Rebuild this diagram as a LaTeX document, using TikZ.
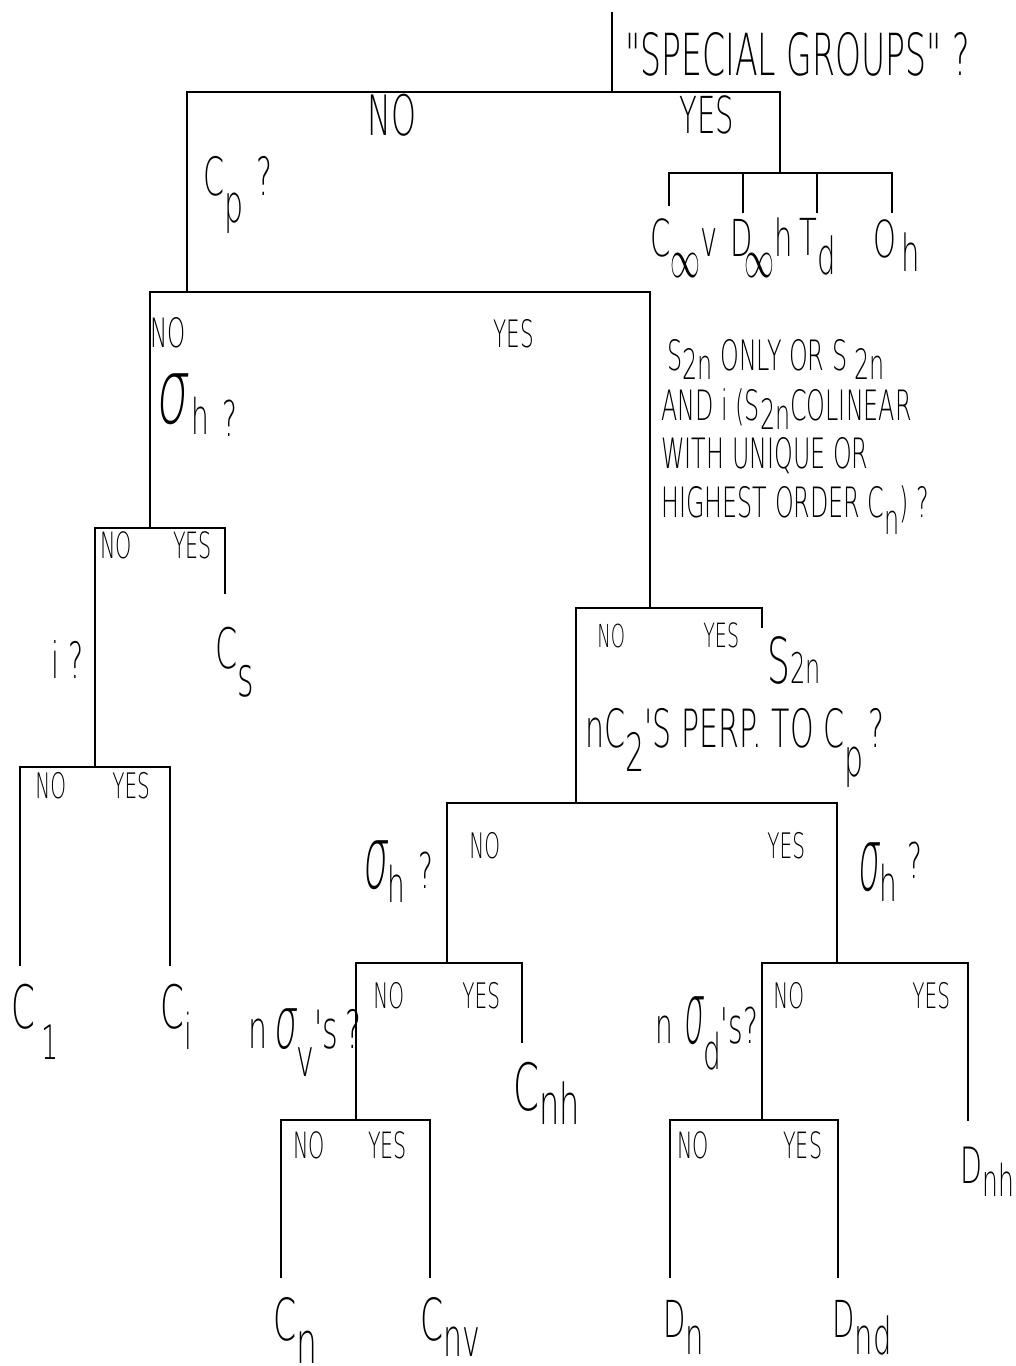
\documentclass[tikz,border=0pt]{standalone}
\usepackage{fontspec}
\setmainfont[FakeStretch=0.57,Ligatures=TeXOff]{DejaVu Sans ExtraLight}
\newfontfamily\grk[FakeSlant=0.15]{DejaVu Sans ExtraLight}
\usepackage{graphicx}
\newdimen\pxu \pxu=0.5669pt
\newcommand\fs[1]{\fontsize{#1}{#1}\selectfont}
\newcommand\lo[2]{\raisebox{-#1\pxu}{#2}}
\newcommand\sig[2]{\resizebox{#1\pxu}{#2\pxu}{\grk\fs{30}σ}}
\newcommand\infy{\resizebox{30\pxu}{24\pxu}{$\infty$}}
\begin{document}
\begin{tikzpicture}[x=0.02cm,y=-0.02cm,
  lbl/.style={inner sep=0pt, anchor=base west},
  br/.style={line width=0.95pt, line cap=rect, line join=miter}]
\useasboundingbox (0,0) rectangle (1015,1366);
% tree coordinates
\coordinate (root) at (612,13);  \coordinate (j1) at (612,92);
\coordinate (b1L) at (187,92);   \coordinate (b1R) at (780,92);
\coordinate (bSc) at (780,173);
\coordinate (bSL) at (669,173);  \coordinate (bSR) at (892,173);
\coordinate (bS2) at (743,173);  \coordinate (bS3) at (817,173);
\coordinate (eS1) at (669,205);  \coordinate (eS2) at (743,212);
\coordinate (eS3) at (817,212);  \coordinate (eS4) at (892,212);
\coordinate (b2c) at (187,292);
\coordinate (b2L) at (150,292);  \coordinate (b2R) at (650,292);
\coordinate (b3c) at (150,528);
\coordinate (b3L) at (95,528);   \coordinate (b3R) at (225,528);
\coordinate (e3R) at (225,593);
\coordinate (b4c) at (95,767);
\coordinate (b4L) at (20,767);   \coordinate (b4R) at (170,767);
\coordinate (e4L) at (20,965);   \coordinate (e4R) at (170,965);
\coordinate (b5c) at (650,608);
\coordinate (b5L) at (576,608);  \coordinate (b5R) at (762,608);
\coordinate (e5R) at (762,627);
\coordinate (b6c) at (576,803);
\coordinate (b6L) at (447,803);  \coordinate (b6R) at (837,803);
\coordinate (b7c) at (447,963);
\coordinate (b7L) at (356,963);  \coordinate (b7R) at (522,963);
\coordinate (e7R) at (522,1042);
\coordinate (b8c) at (356,1120);
\coordinate (b8L) at (281,1120); \coordinate (b8R) at (430,1120);
\coordinate (e8L) at (281,1277); \coordinate (e8R) at (430,1277);
\coordinate (b9c) at (837,963);
\coordinate (b9L) at (762,963);  \coordinate (b9R) at (968,963);
\coordinate (e9R) at (968,1120);
\coordinate (b10c) at (762,1120);
\coordinate (b10L) at (670,1120); \coordinate (b10R) at (838,1120);
\coordinate (e10L) at (670,1277); \coordinate (e10R) at (838,1277);
% branches
\draw[br] (root) -- (j1);
\draw[br] (b1L) -- (b1R) -- (bSc);
\draw[br] (bSL) -- (bSR);
\draw[br] (bSL) -- (eS1);
\draw[br] (bS2) -- (eS2);
\draw[br] (bS3) -- (eS3);
\draw[br] (bSR) -- (eS4);
\draw[br] (b1L) -- (b2c);
\draw[br] (b2L) -- (b2R) -- (b5c);
\draw[br] (b2L) -- (b3c);
\draw[br] (b3L) -- (b3R) -- (e3R);
\draw[br] (b3L) -- (b4c);
\draw[br] (e4L) -- (b4L) -- (b4R) -- (e4R);
\draw[br] (b5L) -- (b5R) -- (e5R);
\draw[br] (b5L) -- (b6c);
\draw[br] (b6L) -- (b6R) -- (b9c);
\draw[br] (b6L) -- (b7c);
\draw[br] (b7L) -- (b7R) -- (e7R);
\draw[br] (b7L) -- (b8c);
\draw[br] (e8L) -- (b8L) -- (b8R) -- (e8R);
\draw[br] (b9L) -- (b9R) -- (e9R);
\draw[br] (b9L) -- (b10c);
\draw[br] (e10L) -- (b10L) -- (b10R) -- (e10R);
% labels
\node[lbl,font=\fs{33}] (q0) at (625,75) {"SPECIAL GROUPS" ?};
\node[lbl,font=\fs{31.7}] (n1) at (367,135) {NO};
\node[lbl,font=\fs{29}] (y1) at (679,133) {YES};
\node[lbl,font=\fs{30}] (q1) at (203,195) {C\lo{28}{p}\hspace{13\pxu}?};
\node[lbl,font=\fs{29}] (g1) at (650,256) {C\lo{22}{\infy}v};
\node[lbl,font=\fs{29}] (g2) at (730,256) {D\hspace{-8\pxu}\lo{22}{\infy}h};
\node[lbl,font=\fs{29}] (g3) at (799,255) {T\lo{20}{d}};
\node[lbl,font=\fs{29}] (g4) at (873,257) {O\hspace{5\pxu}\lo{15}{h}};
\node[lbl,font=\fs{23}] (n2) at (150,347) {NO};
\node[lbl,font=\fs{21.5}] (y2) at (493,347) {YES};
\node[lbl,font=\fs{28}] (q2) at (155,423) {\sig{32}{50}\hspace{4\pxu}\lo{12}{h}\hspace{14\pxu}\lo{14}{?}};
\node[lbl,font=\fs{23.8}] (q3a) at (667,370) {S\lo{10}{2n} ONLY OR S \lo{10}{2n}};
\node[lbl,font=\fs{23.8}] (q3b) at (661,420) {AND i (S\lo{10}{2n}COLINEAR};
\node[lbl,font=\fs{23.8}] (q3c) at (661,468) {WITH UNIQUE OR};
\node[lbl,font=\fs{23.8}] (q3d) at (661,517) {HIGHEST ORDER C\lo{18}{n}) ?};
\node[lbl,font=\fs{20.6}] (n3) at (100,558) {NO};
\node[lbl,font=\fs{20.6}] (y3) at (173,558) {YES};
\node[lbl,font=\fs{28.5}] (q4) at (51,678) {i ?};
\node[lbl,font=\fs{31.7}] (l1) at (215,668) {C\lo{29}{s}};
\node[lbl,font=\fs{20}] (n4) at (35,798) {NO};
\node[lbl,font=\fs{20}] (y4) at (112,798) {YES};
\node[lbl,font=\fs{34}] (l2) at (11,1028) {C\hspace{6\pxu}\lo{32}{\fs{27}1}};
\node[lbl,font=\fs{34}] (l3) at (160,1028) {C\lo{22}{\fs{28}i}};
\node[lbl,font=\fs{18}] (n5) at (597,647) {NO};
\node[lbl,font=\fs{19}] (y5) at (703,647) {YES};
\node[lbl,font=\fs{36}] (l4) at (767,683) {S{\fs{24}2n}};
\node[lbl,font=\fs{30}] (q5) at (585,747) {nC\lo{25}{2}'S PERP. TO C\lo{30}{p}\hspace{5\pxu}?};
\node[lbl,font=\fs{28}] (q6) at (362,888) {\sig{25}{48}\lo{15}{h}\hspace{14\pxu}?};
\node[lbl,font=\fs{20}] (n6) at (469,858) {NO};
\node[lbl,font=\fs{20}] (y6) at (767,858) {YES};
\node[lbl,font=\fs{28}] (q7) at (857,890) {\sig{22}{48}\lo{12}{h}\hspace{10\pxu}\lo{-12}{?}};
\node[lbl,font=\fs{20}] (n7) at (373,1008) {NO};
\node[lbl,font=\fs{20}] (y7) at (462,1008) {YES};
\node[lbl,font=\fs{30}] (q8) at (248,1048) {n\hspace{6\pxu}\sig{23}{40}\lo{29}{v}'s\hspace{8\pxu}?};
\node[lbl,font=\fs{37}] (l5) at (513,1110) {C\lo{15}{\fs{32}nh}};
\node[lbl,font=\fs{20}] (n8) at (773,1008) {NO};
\node[lbl,font=\fs{20}] (y8) at (912,1008) {YES};
\node[lbl,font=\fs{28}] (q9) at (655,1043) {n\hspace{10\pxu}\sig{20}{47}\lo{27}{d}'s?};
\node[lbl,font=\fs{28.5}] (l6) at (960,1183) {D\lo{14}{\fs{25}nh}};
\node[lbl,font=\fs{20.6}] (n9) at (293,1158) {NO};
\node[lbl,font=\fs{20.6}] (y9) at (368,1158) {YES};
\node[lbl,font=\fs{20.6}] (n10) at (677,1158) {NO};
\node[lbl,font=\fs{20.6}] (y10) at (783,1158) {YES};
\node[lbl,font=\fs{33}] (l7) at (273,1340) {C\lo{24}{n}};
\node[lbl,font=\fs{33}] (l8) at (420,1340) {C\lo{17}{\fs{30}nv}};
\node[lbl,font=\fs{29}] (l9) at (663,1337) {D\lo{18}{n}};
\node[lbl,font=\fs{29}] (l10) at (832,1337) {D\lo{18}{nd}};
\end{tikzpicture}
\end{document}
